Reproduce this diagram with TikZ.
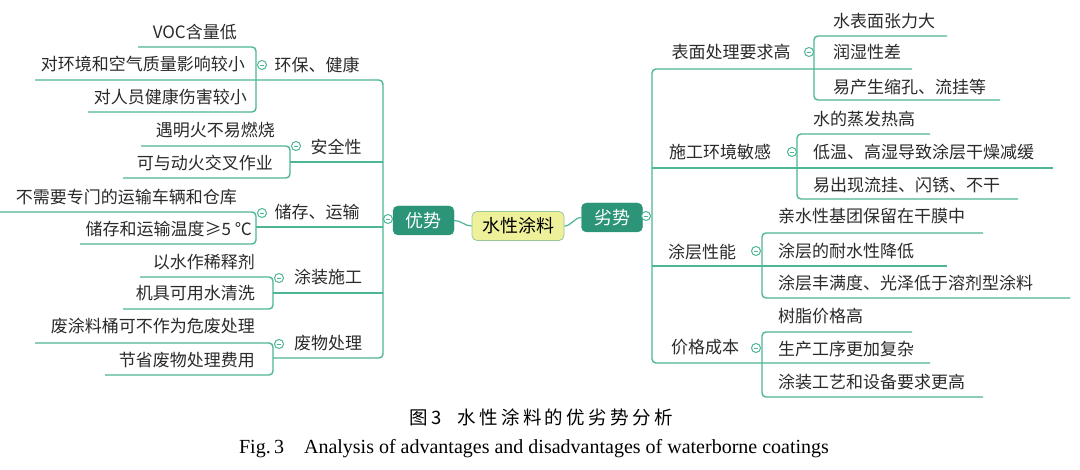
\documentclass[tikz,border=0pt]{standalone}
\usepackage{fontspec}
\setmainfont{Liberation Serif}
\newfontfamily\cjk{Noto Sans CJK SC}
\newfontfamily\cjkcap{Noto Sans CJK SC}[LetterSpace=18]
\definecolor{lnc}{HTML}{4DB697}
\definecolor{boxc}{HTML}{2C9478}
\definecolor{ctrc}{HTML}{EFF09A}
\definecolor{ctrb}{HTML}{96C89C}
\definecolor{txt}{HTML}{2A2A2A}
\begin{document}
\begin{tikzpicture}[x=1pt,y=-1pt,
  conn/.style={draw=lnc,line width=1.4pt,rounded corners=4pt},
  leaf/.style={font=\cjk\fontsize{17}{17}\selectfont,text=txt,inner sep=0pt},
  topic/.style={leaf},
  knob/.style={circle,draw=lnc,line width=1pt,fill=white,minimum size=9pt,inner sep=0pt,
    path picture={\draw[lnc,line width=0.9pt]([xshift=-2.3pt]path picture bounding box.center)--([xshift=2.3pt]path picture bounding box.center);}},
  side/.style={rounded corners=5pt,fill=boxc,draw=boxc,text=white,font=\cjk\fontsize{18}{18}\selectfont,minimum width=61pt,minimum height=29pt,inner sep=0pt},
  core/.style={rounded corners=5pt,fill=ctrc,draw=ctrb,line width=0.8pt,text=black,font=\cjk\fontsize{18}{18}\selectfont,minimum width=92pt,minimum height=29pt,inner sep=0pt}
]
\useasboundingbox (0,0) rectangle (1080,470);

% ---------- left side lines ----------
\coordinate (LT) at (383,80);
\coordinate (LB) at (383,358);
\draw[conn] (35,80) -- (LT) -- (LB) -- (273,358);
\draw[conn] (138,47) -- (256,47) -- (256,112) -- (88,112);
\draw[conn] (290,162) -- (383,162);
\draw[conn] (141,146) -- (290,146) -- (290,178) -- (123,178);
\draw[conn] (256,227) -- (383,227);
\draw[conn] (0,212) -- (256,212) -- (256,244) -- (80,244);
\draw[conn] (273,293) -- (383,293);
\draw[conn] (140,277) -- (273,277) -- (273,309) -- (123,309);
\draw[conn] (35,343) -- (273,343) -- (273,375) -- (105,375);

% ---------- right side lines ----------
\coordinate (RT) at (652,69);
\coordinate (RB) at (652,363);
\draw[conn] (912,69) -- (RT) -- (RB) -- (930,363);
\draw[conn] (947,36) -- (814,36) -- (814,100) -- (1000,100);
\draw[conn] (652,168) -- (1053,168);
\draw[conn] (930,134) -- (797,134) -- (797,199) -- (1018,199);
\draw[conn] (652,266) -- (947,266);
\draw[conn] (983,233) -- (762,233) -- (762,298) -- (1070,298);
\draw[conn] (912,332) -- (762,332) -- (762,397) -- (983,397);

% ---------- central nodes ----------
\node[side] (adv) at (423.5,220.5) {优势};
\node[side] (dis) at (612,217.5) {劣势};
\node[core] (ctr) at (518,226) {水性涂料};
\draw[lnc,line width=1.2pt] (adv.east) to[out=0,in=180] (ctr.west);
\draw[lnc,line width=1.2pt] (ctr.east) to[out=0,in=180] (dis.west);
\node[knob] (kadv) at (388,219) {};
\node[knob] (kdis) at (646,216) {};

% ---------- left topics & leaves ----------
\node[topic] (t1) at (317,65) {环保、健康};
\node[knob] (k1) at (262,65) {};
\node[leaf,anchor=east] (l11) at (237,32) {VOC含量低};
\node[leaf,anchor=east] (l12) at (245,64) {对环境和空气质量影响较小};
\node[leaf,anchor=east] (l13) at (247,97) {对人员健康伤害较小};

\node[topic] (t2) at (336,147) {安全性};
\node[knob] (k2) at (296,146) {};
\node[leaf,anchor=east] (l21) at (275,130) {遇明火不易燃烧};
\node[leaf,anchor=east] (l22) at (273,163) {可与动火交叉作业};

\node[topic] (t3) at (317,212) {储存、运输};
\node[knob] (k3) at (262,213) {};
\node[leaf,anchor=east] (l31) at (237,197) {不需要专门的运输车辆和仓库};
\node[leaf,anchor=east] (l32) at (252,229) {储存和运输温度≥5 ℃};

\node[topic] (t4) at (328,277) {涂装施工};
\node[knob] (k4) at (279,278) {};
\node[leaf,anchor=east] (l41) at (255,262) {以水作稀释剂};
\node[leaf,anchor=east] (l42) at (255,293) {机具可用水清洗};

\node[topic] (t5) at (328,343) {废物处理};
\node[knob] (k5) at (279,344) {};
\node[leaf,anchor=east] (l51) at (255,326) {废涂料桶可不作为危废处理};
\node[leaf,anchor=east] (l52) at (255,360) {节省废物处理费用};

% ---------- right topics & leaves ----------
\node[topic] (r1) at (731,52) {表面处理要求高};
\node[knob] (q1) at (809,52) {};
\node[leaf,anchor=west] (m11) at (833,21) {水表面张力大};
\node[leaf,anchor=west] (m12) at (833,52) {润湿性差};
\node[leaf,anchor=west] (m13) at (833,87) {易产生缩孔、流挂等};

\node[topic] (r2) at (720,152) {施工环境敏感};
\node[knob] (q2) at (792,152) {};
\node[leaf,anchor=west] (m21) at (813,119) {水的蒸发热高};
\node[leaf,anchor=west] (m22) at (813,152) {低温、高湿导致涂层干燥减缓};
\node[leaf,anchor=west] (m23) at (813,185) {易出现流挂、闪锈、不干};

\node[topic] (r3) at (702,252) {涂层性能};
\node[knob] (q3) at (756,251) {};
\node[leaf,anchor=west] (m31) at (778,216) {亲水性基团保留在干膜中};
\node[leaf,anchor=west] (m32) at (778,251) {涂层的耐水性降低};
\node[leaf,anchor=west] (m33) at (778,283) {涂层丰满度、光泽低于溶剂型涂料};

\node[topic] (r4) at (705,347) {价格成本};
\node[knob] (q4) at (756,348) {};
\node[leaf,anchor=west] (m41) at (778,316) {树脂价格高};
\node[leaf,anchor=west] (m42) at (778,349) {生产工序更加复杂};
\node[leaf,anchor=west] (m43) at (778,382) {涂装工艺和设备要求更高};

% ---------- captions ----------
\node[font=\cjkcap\fontsize{18.5}{18.5}\selectfont,text=black,inner sep=0pt] (cap1) at (541,417) {图3\hspace{16pt}水性涂料的优劣势分析};
\node[font=\fontsize{20}{20}\selectfont,text=black,inner sep=0pt] (cap2) at (534,449) {Fig.\,3\hspace{20pt}Analysis of advantages and disadvantages of waterborne coatings};
\end{tikzpicture}
\end{document}
